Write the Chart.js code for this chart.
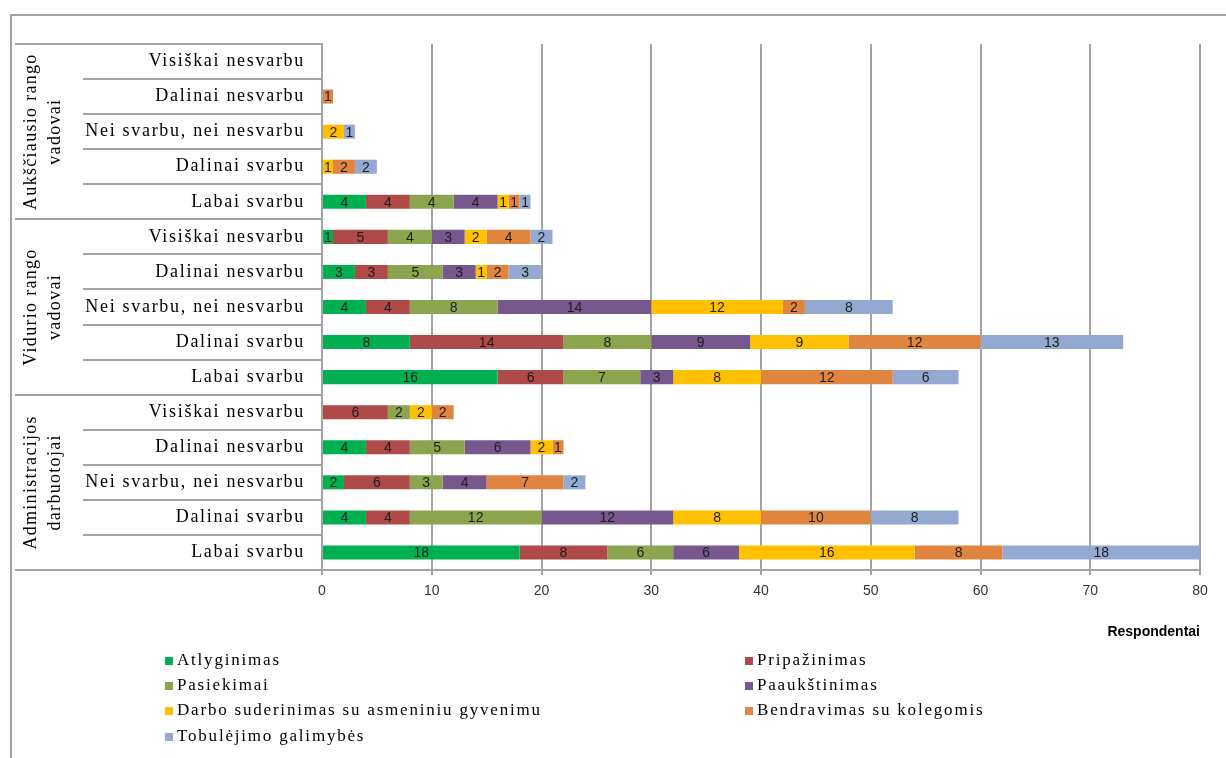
<!DOCTYPE html>
<html>
<head>
<meta charset="utf-8">
<script src="https://cdn.jsdelivr.net/npm/chart.js@4.4.1/dist/chart.umd.min.js"></script>
<style>
  html, body { margin: 0; padding: 0; background: #fff; }
  #wrap { width: 1226px; height: 758px; position: relative; }
</style>
</head>
<body>
<div id="wrap"><canvas id="c" width="1226" height="758"></canvas></div>
<script>
// Respondent groups (top to bottom) and the answer scale within each group
const groups = [
  ['Aukščiausio rango', 'vadovai'],
  ['Vidurio rango', 'vadovai'],
  ['Administracijos', 'darbuotojai']
];
const answers = ['Visiškai nesvarbu', 'Dalinai nesvarbu', 'Nei svarbu, nei nesvarbu', 'Dalinai svarbu', 'Labai svarbu'];

// Category rows, top to bottom
const categories = groups.flatMap(() => answers);

// Series values per row (same order as categories)
const atlyginimas    = [0, 0, 0, 0, 4,   1, 3, 4, 8, 16,   0, 4, 2, 4, 18];
const pripazinimas   = [0, 0, 0, 0, 4,   5, 3, 4, 14, 6,   6, 4, 6, 4, 8];
const pasiekimai     = [0, 0, 0, 0, 4,   4, 5, 8, 8, 7,    2, 5, 3, 12, 6];
const paaukstinimas  = [0, 0, 0, 0, 4,   3, 3, 14, 9, 3,   0, 6, 4, 12, 6];
const darboDerinimas = [0, 0, 2, 1, 1,   2, 1, 12, 9, 8,   2, 2, 0, 8, 16];
const bendravimas    = [0, 1, 0, 2, 1,   4, 2, 2, 12, 12,  2, 1, 7, 10, 8];
const tobulejimas    = [0, 0, 1, 2, 1,   2, 3, 8, 13, 6,   0, 0, 2, 8, 18];

const xTicks = [0, 10, 20, 30, 40, 50, 60, 70, 80];

const seriesNames = ['Atlyginimas', 'Pripažinimas', 'Pasiekimai', 'Paaukštinimas',
  'Darbo suderinimas su asmeniniu gyvenimu', 'Bendravimas su kolegomis', 'Tobulėjimo galimybės'];
const seriesValues = [atlyginimas, pripazinimas, pasiekimai, paaukstinimas, darboDerinimas, bendravimas, tobulejimas];
const seriesColors = ['#00B050', '#AE4A47', '#8BA54F', '#76588F', '#FFC000', '#DF853F', '#94A9D1'];

const SERIF = '"Liberation Serif", "DejaVu Serif", serif';
const SANS = '"Liberation Sans", "DejaVu Sans", sans-serif';
const GRID = '#A3A3A3';

// Value labels centred inside each non-empty segment
const segmentLabels = {
  id: 'segmentLabels',
  afterDatasetsDraw(chart) {
    const ctx = chart.ctx;
    ctx.save();
    ctx.font = '14px ' + SANS;
    ctx.fillStyle = '#1E1E1E';
    ctx.textAlign = 'center';
    ctx.textBaseline = 'middle';
    chart.data.datasets.forEach((ds, di) => {
      const meta = chart.getDatasetMeta(di);
      meta.data.forEach((bar, i) => {
        const v = ds.data[i];
        if (!v) return;
        const cx = (bar.x + bar.base) / 2;
        ctx.fillText(String(v), cx, bar.y + 1);
      });
    });
    ctx.restore();
  }
};

// Outer frame, two-level category table on the left, and the legend
const decorations = {
  id: 'decorations',
  afterDraw(chart) {
    const ctx = chart.ctx;
    const area = chart.chartArea;
    const yScale = chart.scales.y;
    const n = categories.length;
    const rowH = (area.bottom - area.top) / n;
    ctx.save();

    // frame
    ctx.strokeStyle = GRID;
    ctx.lineWidth = 2;
    ctx.beginPath();
    ctx.moveTo(11, 800);
    ctx.lineTo(11, 15);
    ctx.lineTo(1300, 15);
    ctx.stroke();

    // row dividers in the label column
    for (let k = 0; k <= n; k++) {
      const y = Math.round(area.top + k * rowH);
      const groupEdge = k % answers.length === 0;
      ctx.beginPath();
      ctx.moveTo(groupEdge ? 15 : 83, y);
      ctx.lineTo(area.left, y);
      ctx.stroke();
    }

    // answer labels, right-aligned next to the axis
    ctx.fillStyle = '#000';
    ctx.font = '18px ' + SERIF;
    ctx.letterSpacing = '1.7px';
    ctx.textAlign = 'right';
    ctx.textBaseline = 'middle';
    categories.forEach((label, i) => {
      ctx.fillText(label, 305, yScale.getPixelForValue(i));
    });

    // group names, rotated
    ctx.letterSpacing = '1.3px';
    ctx.textAlign = 'center';
    groups.forEach((g, gi) => {
      const cy = area.top + (gi * answers.length + answers.length / 2) * rowH;
      ctx.save();
      ctx.translate(31, cy);
      ctx.rotate(-Math.PI / 2);
      ctx.fillText(g[0], 0, 0);
      ctx.fillText(g[1], 0, 24);
      ctx.restore();
    });

    // legend in two columns
    ctx.font = '17px ' + SERIF;
    ctx.letterSpacing = '1.8px';
    ctx.textAlign = 'left';
    const colX = [165, 745];
    const rowY = [661, 686, 711, 737];
    seriesNames.forEach((name, i) => {
      const x = colX[i % 2];
      const y = rowY[Math.floor(i / 2)];
      ctx.fillStyle = seriesColors[i];
      ctx.fillRect(x, y - 4, 8, 8);
      ctx.fillStyle = '#000';
      ctx.fillText(name, x + 12, y);
    });
    ctx.letterSpacing = '0px';
    ctx.restore();
  }
};

new Chart(document.getElementById('c'), {
  type: 'bar',
  data: {
    labels: categories,
    datasets: seriesNames.map((name, i) => ({
      label: name,
      data: seriesValues[i],
      backgroundColor: seriesColors[i],
      borderWidth: 0,
      categoryPercentage: 1,
      barPercentage: 0.4
    }))
  },
  options: {
    indexAxis: 'y',
    responsive: false,
    animation: false,
    layout: { padding: { top: 44, bottom: 113, left: 0, right: 26 } },
    plugins: { legend: { display: false }, tooltip: { enabled: false } },
    scales: {
      x: {
        stacked: true,
        min: 0,
        max: 80,
        afterBuildTicks(scale) { scale.ticks = xTicks.map(v => ({ value: v })); },
        afterFit(scale) { scale.height = 75; },
        grid: { color: GRID, lineWidth: 2, tickLength: 5, drawTicks: true },
        border: { color: GRID, width: 2 },
        ticks: { font: { family: SANS, size: 14 }, color: '#333', padding: 8 },
        title: {
          display: true,
          text: 'Respondentai',
          align: 'end',
          color: '#000',
          font: { family: SANS, size: 14, weight: 'bold' },
          padding: { top: 0, bottom: 4 }
        }
      },
      y: {
        stacked: true,
        afterFit(scale) { scale.width = 322; },
        grid: { display: false, drawTicks: false },
        border: { color: GRID, width: 2 },
        ticks: { display: false, autoSkip: false }
      }
    }
  },
  plugins: [segmentLabels, decorations]
});
</script>
</body>
</html>
